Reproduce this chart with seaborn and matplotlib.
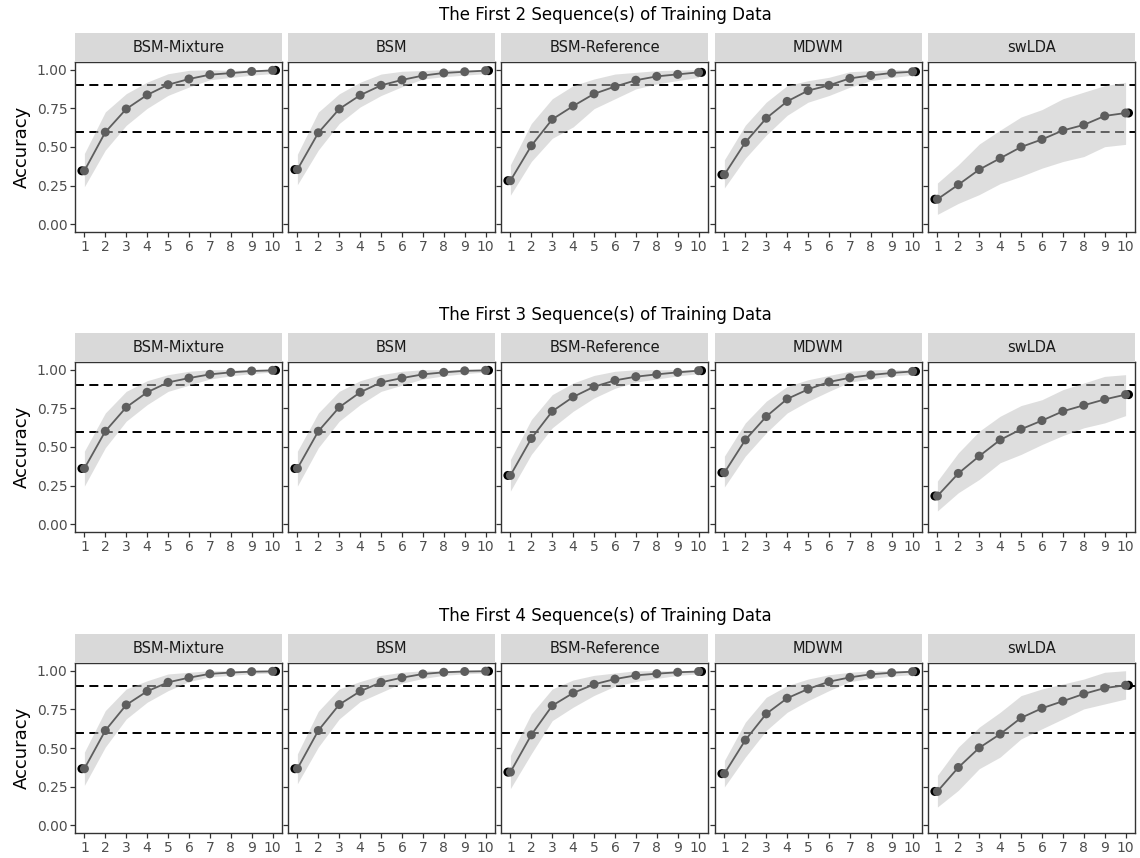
import matplotlib
matplotlib.use("Agg")
import matplotlib.pyplot as plt
import numpy as np
import pandas as pd
import seaborn as sns

# ---------------------------------------------------------------- data
methods = ["BSM-Mixture", "BSM", "BSM-Reference", "MDWM", "swLDA"]
n_seqs = [2, 3, 4]
n_chars = [1, 2, 3, 4, 5, 6, 7, 8, 9, 10]

mean_seq2 = {
    "BSM-Mixture":   [0.346, 0.596, 0.746, 0.837, 0.903, 0.940, 0.968, 0.978, 0.989, 0.996],
    "BSM":           [0.354, 0.592, 0.746, 0.835, 0.899, 0.934, 0.962, 0.979, 0.987, 0.994],
    "BSM-Reference": [0.282, 0.508, 0.679, 0.765, 0.844, 0.891, 0.932, 0.957, 0.970, 0.983],
    "MDWM":          [0.321, 0.530, 0.686, 0.795, 0.865, 0.899, 0.944, 0.963, 0.979, 0.987],
    "swLDA":         [0.162, 0.256, 0.354, 0.427, 0.500, 0.549, 0.607, 0.643, 0.701, 0.720],
}
lower_seq2 = {
    "BSM-Mixture":   [0.243, 0.480, 0.640, 0.750, 0.834, 0.888, 0.935, 0.950, 0.965, 0.975],
    "BSM":           [0.256, 0.480, 0.652, 0.759, 0.833, 0.890, 0.940, 0.955, 0.965, 0.975],
    "BSM-Reference": [0.188, 0.406, 0.556, 0.630, 0.748, 0.812, 0.876, 0.908, 0.930, 0.950],
    "MDWM":          [0.235, 0.427, 0.577, 0.705, 0.790, 0.833, 0.887, 0.929, 0.950, 0.965],
    "swLDA":         [0.064, 0.135, 0.192, 0.263, 0.310, 0.363, 0.406, 0.438, 0.502, 0.517],
}
upper_seq2 = {
    "BSM-Mixture":   [0.458, 0.727, 0.845, 0.920, 0.974, 0.996, 1.000, 0.995, 1.000, 1.000],
    "BSM":           [0.453, 0.726, 0.844, 0.919, 0.972, 0.990, 0.995, 1.000, 1.000, 1.000],
    "BSM-Reference": [0.385, 0.652, 0.812, 0.897, 0.940, 0.972, 0.983, 0.994, 0.998, 1.000],
    "MDWM":          [0.417, 0.641, 0.790, 0.897, 0.929, 0.951, 0.987, 0.994, 1.000, 1.000],
    "swLDA":         [0.267, 0.385, 0.519, 0.609, 0.694, 0.742, 0.812, 0.855, 0.897, 0.919],
}

mean_seq3 = {
    "BSM-Mixture":   [0.361, 0.602, 0.757, 0.854, 0.918, 0.946, 0.970, 0.983, 0.992, 0.996],
    "BSM":           [0.361, 0.602, 0.757, 0.854, 0.918, 0.946, 0.970, 0.983, 0.993, 0.996],
    "BSM-Reference": [0.316, 0.555, 0.731, 0.824, 0.890, 0.931, 0.955, 0.970, 0.983, 0.994],
    "MDWM":          [0.334, 0.546, 0.697, 0.811, 0.873, 0.921, 0.948, 0.966, 0.979, 0.989],
    "swLDA":         [0.183, 0.329, 0.441, 0.546, 0.615, 0.671, 0.731, 0.770, 0.808, 0.839],
}
lower_seq3 = {
    "BSM-Mixture":   [0.247, 0.495, 0.667, 0.774, 0.860, 0.900, 0.940, 0.960, 0.975, 0.985],
    "BSM":           [0.247, 0.495, 0.667, 0.774, 0.860, 0.900, 0.940, 0.960, 0.975, 0.985],
    "BSM-Reference": [0.215, 0.452, 0.624, 0.731, 0.817, 0.880, 0.920, 0.940, 0.960, 0.975],
    "MDWM":          [0.241, 0.441, 0.592, 0.720, 0.796, 0.860, 0.920, 0.940, 0.960, 0.970],
    "swLDA":         [0.086, 0.204, 0.290, 0.398, 0.452, 0.516, 0.574, 0.624, 0.656, 0.703],
}
upper_seq3 = {
    "BSM-Mixture":   [0.473, 0.720, 0.860, 0.929, 0.968, 0.990, 1.000, 1.000, 1.000, 1.000],
    "BSM":           [0.473, 0.720, 0.860, 0.929, 0.968, 0.990, 1.000, 1.000, 1.000, 1.000],
    "BSM-Reference": [0.419, 0.677, 0.839, 0.914, 0.963, 0.990, 1.000, 1.000, 1.000, 1.000],
    "MDWM":          [0.441, 0.656, 0.796, 0.892, 0.935, 0.963, 0.990, 1.000, 1.000, 1.000],
    "swLDA":         [0.280, 0.462, 0.602, 0.699, 0.768, 0.806, 0.871, 0.914, 0.957, 0.968],
}

mean_seq4 = {
    "BSM-Mixture":   [0.366, 0.613, 0.779, 0.867, 0.925, 0.955, 0.980, 0.988, 0.994, 0.996],
    "BSM":           [0.366, 0.613, 0.781, 0.867, 0.925, 0.955, 0.979, 0.990, 0.995, 0.997],
    "BSM-Reference": [0.344, 0.585, 0.774, 0.856, 0.912, 0.946, 0.970, 0.981, 0.990, 0.995],
    "MDWM":          [0.334, 0.551, 0.721, 0.822, 0.882, 0.929, 0.957, 0.977, 0.987, 0.994],
    "swLDA":         [0.219, 0.374, 0.501, 0.590, 0.695, 0.757, 0.803, 0.850, 0.888, 0.906],
}
lower_seq4 = {
    "BSM-Mixture":   [0.258, 0.506, 0.688, 0.796, 0.871, 0.930, 0.960, 0.970, 0.980, 0.985],
    "BSM":           [0.269, 0.506, 0.688, 0.800, 0.860, 0.920, 0.950, 0.970, 0.980, 0.985],
    "BSM-Reference": [0.237, 0.463, 0.677, 0.764, 0.840, 0.900, 0.930, 0.950, 0.970, 0.980],
    "MDWM":          [0.248, 0.441, 0.613, 0.731, 0.806, 0.871, 0.930, 0.950, 0.965, 0.975],
    "swLDA":         [0.118, 0.226, 0.366, 0.441, 0.559, 0.624, 0.688, 0.753, 0.785, 0.817],
}
upper_seq4 = {
    "BSM-Mixture":   [0.473, 0.742, 0.882, 0.935, 0.979, 0.990, 1.000, 1.000, 1.000, 1.000],
    "BSM":           [0.462, 0.738, 0.882, 0.930, 0.970, 0.990, 1.000, 1.000, 1.000, 1.000],
    "BSM-Reference": [0.452, 0.721, 0.882, 0.940, 0.970, 0.985, 1.000, 1.000, 1.000, 1.000],
    "MDWM":          [0.419, 0.667, 0.828, 0.903, 0.946, 0.974, 0.990, 1.000, 1.000, 1.000],
    "swLDA":         [0.323, 0.506, 0.635, 0.731, 0.839, 0.882, 0.914, 0.946, 0.990, 1.000],
}

thresholds = [0.6, 0.9]
y_ticks = [0.00, 0.25, 0.50, 0.75, 1.00]

# ---------------------------------------------------------------- tidy frame
tables = {2: (mean_seq2, lower_seq2, upper_seq2),
          3: (mean_seq3, lower_seq3, upper_seq3),
          4: (mean_seq4, lower_seq4, upper_seq4)}
rows = []
for s in n_seqs:
    mean_t, low_t, up_t = tables[s]
    for m in methods:
        for i, n in enumerate(n_chars):
            rows.append(dict(seq=s, method=m, n=n, acc=mean_t[m][i],
                             lo=low_t[m][i], hi=up_t[m][i]))
df = pd.DataFrame(rows)

# ---------------------------------------------------------------- style
sns.set_theme(style="white")
plt.rcParams["font.family"] = ["DejaVu Sans"]

W, H = 1140, 858
fig = plt.figure(figsize=(W / 100, H / 100), dpi=100)
fig.patch.set_facecolor("white")

col_left = [75, 288, 501, 715, 928]
panel_w = 207
panel_h = 170
row_top = [62, 362, 663]
strip_h = 29

band_color = "#BEBEBE"
line_color = "#5E5E5E"
tick_color = "#4D4D4D"
border_color = "#333333"


def frac_box(x, y_top, w, h):
    return [x / W, 1 - (y_top + h) / H, w / W, h / H]


for r, s in enumerate(n_seqs):
    for c, m in enumerate(methods):
        sub = df[(df.seq == s) & (df.method == m)]
        ax = fig.add_axes(frac_box(col_left[c], row_top[r], panel_w, panel_h))
        ax.set_facecolor("white")

        for t in thresholds:
            ax.axhline(t, color="black", lw=1.4, ls=(0, (4.6, 2.8)), zorder=1)

        ax.fill_between(sub.n, sub.lo, sub.hi, color=band_color, alpha=0.5,
                        lw=0, zorder=2)
        sns.lineplot(data=sub, x="n", y="acc", color=line_color, lw=1.3,
                     errorbar=None, ax=ax, zorder=3)

        # end points in black, peeking out beneath the grey markers
        ends = sub[sub.n.isin([n_chars[0], n_chars[-1]])].copy()
        ends["n"] = ends["n"] + np.where(ends["n"] == n_chars[0], -0.12, 0.14)
        sns.scatterplot(data=ends, x="n", y="acc", color="black", s=42,
                        edgecolor="none", ax=ax, zorder=4)
        sns.scatterplot(data=sub, x="n", y="acc", color=line_color, s=42,
                        edgecolor="none", ax=ax, zorder=5)

        ax.set_xlim(0.55, 10.45)
        ax.set_ylim(-0.05, 1.05)
        ax.set_xticks(n_chars)
        ax.set_xticklabels([str(n) for n in n_chars])
        ax.set_yticks(y_ticks)
        if c == 0:
            ax.set_yticklabels([f"{v:.2f}" for v in y_ticks])
            ax.set_ylabel("Accuracy", fontsize=13, color="black", labelpad=4)
        else:
            ax.set_yticklabels([])
            ax.set_ylabel("")
        ax.set_xlabel("")
        ax.tick_params(axis="both", which="major", direction="out", length=3.5,
                       width=0.9, color=border_color, labelsize=10,
                       labelcolor=tick_color, pad=2,
                       left=True, bottom=True)
        for sp in ax.spines.values():
            sp.set_color(border_color)
            sp.set_linewidth(1.0)
        ax.grid(False)

        # facet strip
        sax = fig.add_axes(frac_box(col_left[c], row_top[r] - strip_h,
                                    panel_w, strip_h))
        sax.set_facecolor("#D9D9D9")
        for sp in sax.spines.values():
            sp.set_visible(False)
        sax.set_xticks([])
        sax.set_yticks([])
        sax.text(0.5, 0.5, m, ha="center", va="center", fontsize=10.5,
                 color="#1A1A1A", transform=sax.transAxes)

    title_y = row_top[r] - strip_h - 18
    fig.text((col_left[0] + col_left[-1] + panel_w) / 2 / W, 1 - title_y / H,
             f"The First {s} Sequence(s) of Training Data",
             ha="center", va="center", fontsize=12, color="black")

fig.savefig("out.png", dpi=100, facecolor="white")
